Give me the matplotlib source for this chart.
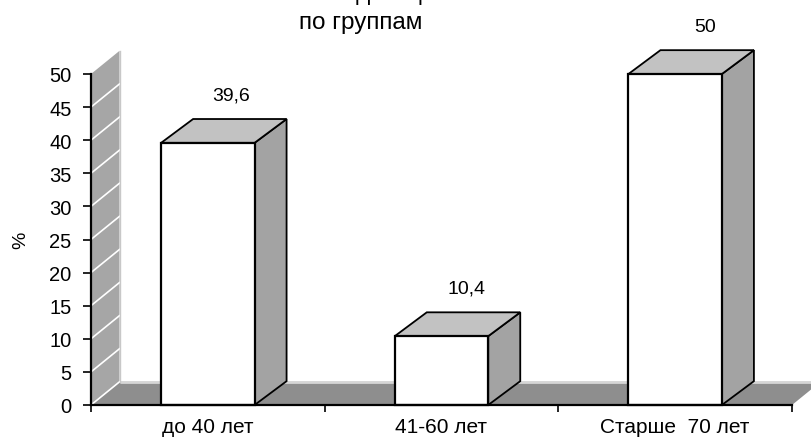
import matplotlib.pyplot as plt
from matplotlib.patches import Polygon

plt.rcParams['font.family'] = ['Liberation Sans', 'DejaVu Sans']

# data
categories = ['до 40 лет', '41-60 лет', 'Старше  70 лет']
values = [39.6, 10.4, 50]
value_labels = ['39,6', '10,4', '50']
title_lines = ['Инвалидизация', 'по группам']

# depth of the pseudo-3d boxes (data units)
bar_dx, bar_dy = 0.137, 3.6
wall_dx, wall_dy = 0.122, 3.5
half_w = 0.2

fig = plt.figure(figsize=(8.12, 4.39), dpi=100)
ax = fig.add_axes([91/812, 33/439, 701/812, 331/439])
ax.set_xlim(0, 3)
ax.set_ylim(0, 50)

# floor
floor = Polygon([(0, 0), (3, 0), (3 + wall_dx, wall_dy), (wall_dx, wall_dy)],
                closed=True, facecolor='#8e8e8e', edgecolor='none',
                clip_on=False, zorder=1)
ax.add_patch(floor)
ax.plot([wall_dx, 3 + wall_dx], [wall_dy, wall_dy], color='#d6d6d6', lw=2,
        clip_on=False, zorder=1.5, solid_capstyle='butt')

# side wall with white gridlines
wall = Polygon([(0, 0), (0, 50), (wall_dx, 50 + wall_dy), (wall_dx, wall_dy)],
               closed=True, facecolor='#a6a6a6', edgecolor='none',
               clip_on=False, zorder=2)
ax.add_patch(wall)
for v in range(0, 50, 5):
    ax.plot([0, wall_dx], [v, v + wall_dy], color='white', lw=1.2,
            clip_on=False, zorder=2.5)
ax.plot([wall_dx, wall_dx], [wall_dy, 50 + wall_dy], color='#c8c8c8', lw=1,
        clip_on=False, zorder=2.5)

# boxes
label_shift = [0.1, 0.105, 0.13]
for i, (v, lab) in enumerate(zip(values, value_labels)):
    x0, x1 = i + 0.5 - half_w, i + 0.5 + half_w
    side = Polygon([(x1, 0), (x1 + bar_dx, bar_dy), (x1 + bar_dx, v + bar_dy), (x1, v)],
                   closed=True, facecolor='#a3a3a3', edgecolor='black', lw=1.3,
                   clip_on=False, zorder=3)
    top = Polygon([(x0, v), (x1, v), (x1 + bar_dx, v + bar_dy), (x0 + bar_dx, v + bar_dy)],
                  closed=True, facecolor='#c2c2c2', edgecolor='black', lw=1.3,
                  clip_on=False, zorder=3)
    front = Polygon([(x0, 0), (x1, 0), (x1, v), (x0, v)],
                    closed=True, facecolor='white', edgecolor='black', lw=1.6,
                    clip_on=False, zorder=4)
    for p in (side, top, front):
        ax.add_patch(p)
    ax.text(i + 0.5 + label_shift[i], v + bar_dy + 3.6, lab, ha='center', va='center',
            fontsize=14, zorder=5)

# axes lines and ticks
for s in ('top', 'right'):
    ax.spines[s].set_visible(False)
ax.spines['left'].set_linewidth(1.6)
ax.spines['bottom'].set_linewidth(1.6)
ax.spines['left'].set_zorder(6)
ax.spines['bottom'].set_zorder(6)
ax.set_facecolor('none')

ax.set_yticks(range(0, 55, 5))
ax.tick_params(axis='y', direction='out', length=6, width=1.2, labelsize=14.5, pad=8)
ax.set_xticks([0, 1, 2, 3])
ax.set_xticklabels([])
ax.set_xticks([0.5, 1.5, 2.5], minor=True)
ax.set_xticklabels(categories, minor=True)
ax.tick_params(axis='x', which='major', direction='out', length=5, width=1.2)
ax.tick_params(axis='x', which='minor', length=0, labelsize=15, pad=9)
ax.set_ylabel('%', fontsize=14, labelpad=14)

# title, its first line runs off the top edge
fig.text(360/812, 1 + 6/439, title_lines[0], ha='center', va='center', fontsize=17.5)
fig.text(361/812, 1 - 23/439, title_lines[1], ha='center', va='center', fontsize=17.5)

fig.savefig('out.png', dpi=100)
